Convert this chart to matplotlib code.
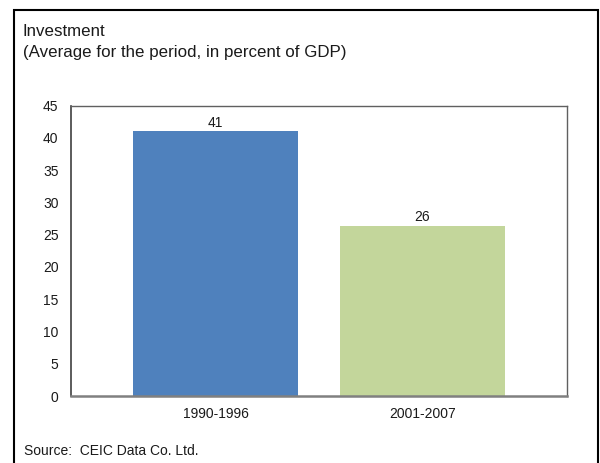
import matplotlib.pyplot as plt
from matplotlib.patches import Rectangle

plt.rcParams["font.family"] = ["Liberation Sans", "DejaVu Sans"]

periods = ["1990-1996", "2001-2007"]
investment = [41.1, 26.4]
bar_colors = ["#4f81bd", "#c3d69b"]
yticks = [0, 5, 10, 15, 20, 25, 30, 35, 40, 45]

W, H = 600, 463
fig = plt.figure(figsize=(W / 100, H / 100), dpi=100, facecolor="white")

# outer frame (open at the bottom, as in the reference crop)
fig.patches.append(Rectangle((14 / W, -0.05), (598 - 14) / W, 1.05 - 10 / H,
                             transform=fig.transFigure, fill=False,
                             edgecolor="black", linewidth=1.5))

ax = fig.add_axes([71 / W, 1 - 396 / H, (567 - 71) / W, (396 - 105.7) / H])
xs = range(len(periods))
bars = ax.bar(xs, investment, width=0.8, color=bar_colors)
for b, v in zip(bars, investment):
    ax.text(b.get_x() + b.get_width() / 2, v + 0.2, f"{v:.0f}",
            ha="center", va="bottom", fontsize=10, color="#1a1a1a")

ax.set_xlim(-0.70, 1.70)
ax.set_ylim(0, 45)
ax.set_yticks(yticks)
ax.set_xticks(list(xs), periods)
ax.tick_params(axis="y", length=0, pad=9, labelsize=10, colors="#1a1a1a")
ax.tick_params(axis="x", length=0, pad=8, labelsize=10, colors="#1a1a1a")

for side in ("top", "right"):
    ax.spines[side].set_color("#606060")
    ax.spines[side].set_linewidth(1.0)
ax.spines["left"].set_color("#404040")
ax.spines["left"].set_linewidth(1.2)
ax.spines["bottom"].set_color("#808080")
ax.spines["bottom"].set_linewidth(1.8)

fig.text(23 / W, 1 - 31 / H, "Investment", fontsize=12.2, va="center",
         color="#1a1a1a")
fig.text(23 / W, 1 - 53 / H, "(Average for the period, in percent of GDP)",
         fontsize=12.2, va="center", color="#1a1a1a")
fig.text(24 / W, 1 - 451 / H, "Source:  CEIC Data Co. Ltd.", fontsize=10,
         va="center", color="#1a1a1a")

fig.savefig("out.png", dpi=100, facecolor="white")
